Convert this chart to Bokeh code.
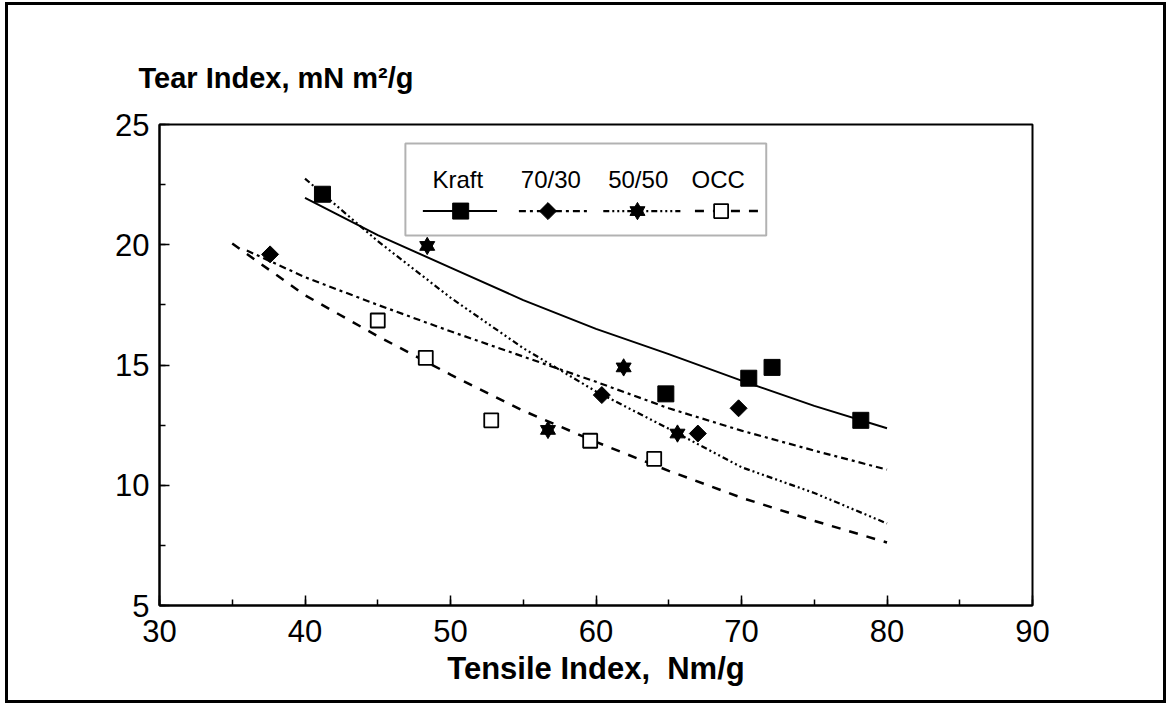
from bokeh.plotting import figure
from bokeh.models import Range1d, BoxAnnotation, Label, SingleIntervalTicker
from bokeh.embed import file_html
from bokeh.resources import INLINE
import math

# ---- data ----
kraft_x = [41.2, 64.8, 70.5, 72.1, 78.2]
kraft_y = [22.1, 13.8, 14.45, 14.9, 12.7]
b7030_x = [37.6, 60.4, 67.0, 69.8]
b7030_y = [19.6, 13.75, 12.15, 13.2]
b5050_x = [48.4, 56.7, 61.9, 65.6]
b5050_y = [19.95, 12.3, 14.9, 12.15]
occ_x = [45.0, 48.3, 52.8, 59.6, 64.0]
occ_y = [16.85, 15.3, 12.7, 11.85, 11.1]

kraft_fit_x = [40, 45, 50, 55, 60, 65, 70, 75, 80]
kraft_fit_y = [21.95, 20.4, 19.05, 17.7, 16.5, 15.45, 14.35, 13.3, 12.37]
b7030_fit_x = [36, 40, 45, 50, 55, 60, 65, 70, 75, 80]
b7030_fit_y = [19.76, 18.65, 17.5, 16.4, 15.35, 14.3, 13.2, 12.27, 11.44, 10.65]
b5050_fit_x = [40, 45, 50, 55, 60, 65, 70, 75, 80]
b5050_fit_y = [22.75, 20.15, 17.8, 15.7, 13.9, 12.35, 10.75, 9.68, 8.41]
occ_fit_x = [35, 40, 45, 50, 55, 60, 65, 70, 75, 80]
occ_fit_y = [20.05, 17.9, 16.2, 14.6, 13.1, 11.8, 10.6, 9.48, 8.52, 7.62]

series_names = ["Kraft", "70/30", "50/50", "OCC"]
x_label = "Tensile Index, \u00a0Nm/g"
y_label = "Tear Index, mN m²/g"

FONT = "Liberation Sans"

# canvas sits inside a 3px page border (outer box 5..1172 x 2..709)
p = figure(width=1161, height=701, output_backend="svg", toolbar_location=None,
           x_range=Range1d(30, 90), y_range=Range1d(5, 25),
           min_border_left=151, min_border_right=137,
           min_border_top=119, min_border_bottom=101,
           styles={"border": "3px solid black", "margin": "2px 0px 0px 5px"})
p.background_fill_color = "white"
p.border_fill_color = "white"
p.grid.visible = False
p.outline_line_color = "black"
p.outline_line_width = 2

for ax in (p.xaxis[0], p.yaxis[0]):
    ax.axis_line_width = 2
    ax.major_tick_in = 10
    ax.major_tick_out = 0
    ax.minor_tick_in = 6
    ax.minor_tick_out = 0
    ax.major_tick_line_width = 1.5
    ax.minor_tick_line_width = 1.5
    ax.major_label_text_font = FONT
    ax.major_label_text_font_size = "31px"
    ax.major_label_text_color = "black"
p.yaxis.major_label_standoff = 10
p.xaxis.major_label_standoff = 14

p.xaxis.ticker = SingleIntervalTicker(interval=10, num_minor_ticks=2)
p.yaxis.ticker = SingleIntervalTicker(interval=5, num_minor_ticks=2)
p.xaxis.axis_label = x_label
p.xaxis.axis_label_text_font = FONT
p.xaxis.axis_label_text_font_style = "bold"
p.xaxis.axis_label_text_font_size = "31px"
p.xaxis.axis_label_text_color = "black"
p.xaxis.axis_label_standoff = 6

# y-axis title, horizontal above the plot
p.title.text = y_label
p.title.align = "left"
p.title.offset = -21
p.title.standoff = 61
p.title.text_font = FONT
p.title.text_font_style = "bold"
p.title.text_font_size = "29px"
p.title.text_color = "black"

# fitted curves
p.line(kraft_fit_x, kraft_fit_y, line_color="black", line_width=2)
p.line(b7030_fit_x, b7030_fit_y, line_color="black", line_width=2.2, line_dash="7 4 3 4")
p.line(b5050_fit_x, b5050_fit_y, line_color="black", line_width=2.2, line_dash="6 3 2 3 2 3 2 3")
p.line(occ_fit_x, occ_fit_y, line_color="black", line_width=2.5, line_dash="9 9")

DIAMOND_ANGLE = math.pi / 4

# data points
p.scatter(kraft_x, kraft_y, marker="square", size=16, fill_color="black", line_color="black")
p.scatter(b7030_x, b7030_y, marker="square", size=12, angle=DIAMOND_ANGLE,
          fill_color="black", line_color="black")
p.scatter(b5050_x, b5050_y, marker="triangle", size=15, fill_color="black", line_color="black")
p.scatter(b5050_x, b5050_y, marker="inverted_triangle", size=15, fill_color="black", line_color="black")
p.scatter(occ_x, occ_y, marker="square", size=14, fill_color="white", line_color="black", line_width=1.8)

# ---- legend (drawn manually: labels above line samples) ----
p.add_layout(BoxAnnotation(left=46.9, right=71.7, bottom=20.38, top=24.21,
                           fill_color="white", fill_alpha=1, line_color="black",
                           line_width=2, level="underlay"))
lab_x = [50.5, 56.9, 62.9, 68.4]
for name, lx in zip(series_names, lab_x):
    p.add_layout(Label(x=lx, y=22.7, text=name, text_align="center",
                       text_baseline="alphabetic", text_font=FONT,
                       text_font_size="24px", text_color="black"))
ly = 21.4
p.line([48.1, 53.2], [ly, ly], line_color="black", line_width=2)
p.scatter([50.7], [ly], marker="square", size=16, fill_color="black", line_color="black")
p.line([54.7, 59.6], [ly, ly], line_color="black", line_width=2.2, line_dash="7 4 3 4")
p.scatter([56.7], [ly], marker="square", size=12, angle=DIAMOND_ANGLE,
          fill_color="black", line_color="black")
p.line([60.5, 65.8], [ly, ly], line_color="black", line_width=2.2, line_dash="6 3 2 3 2 3 2 3")
p.scatter([62.85], [ly], marker="triangle", size=15, fill_color="black", line_color="black")
p.scatter([62.85], [ly], marker="inverted_triangle", size=15, fill_color="black", line_color="black")
p.line([66.8, 71.6], [ly, ly], line_color="black", line_width=2.5, line_dash="9 9")
p.scatter([68.6], [ly], marker="square", size=14, fill_color="white", line_color="black", line_width=1.8)

open("out.html", "w").write(file_html(p, INLINE))
